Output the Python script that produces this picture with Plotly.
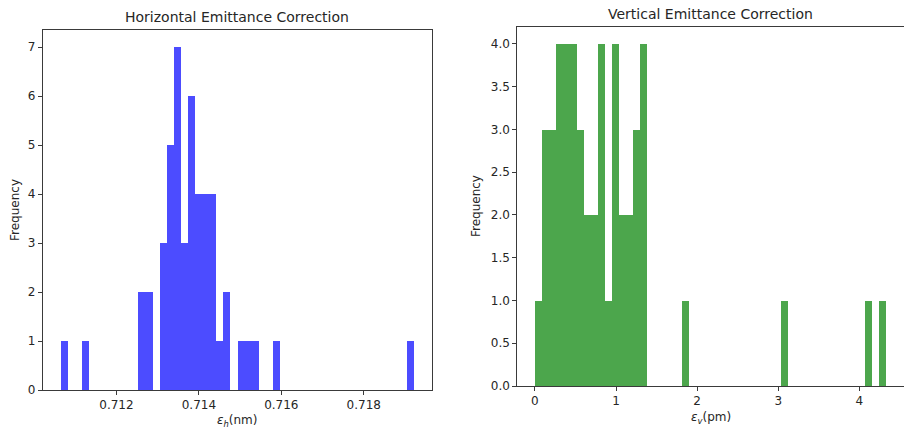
import numpy as np
import plotly.graph_objects as go

# Histogram of corrected horizontal emittance (nm): 50 equal bins
h_lo, h_hi = 0.71064, 0.71922
h_counts = [1, 0, 0, 1, 0, 0, 0, 0, 0, 0,
            0, 2, 2, 0, 3, 5, 7, 3, 6, 4,
            4, 4, 1, 2, 0, 1, 1, 1, 0, 0,
            1, 0, 0, 0, 0, 0, 0, 0, 0, 0,
            0, 0, 0, 0, 0, 0, 0, 0, 0, 1]

# Histogram of corrected vertical emittance (pm): 50 equal bins
v_lo, v_hi = 0.0, 4.337
v_counts = [1, 3, 3, 4, 4, 4, 3, 2, 2, 4,
            1, 4, 2, 2, 3, 4, 0, 0, 0, 0,
            0, 1, 0, 0, 0, 0, 0, 0, 0, 0,
            0, 0, 0, 0, 0, 1, 0, 0, 0, 0,
            0, 0, 0, 0, 0, 0, 0, 1, 0, 1]

h_ticks = [0.712, 0.714, 0.716, 0.718]
v_xticks = [0, 1, 2, 3, 4]
h_yticks = [0, 1, 2, 3, 4, 5, 6, 7]
v_yticks = [0.0, 0.5, 1.0, 1.5, 2.0, 2.5, 3.0, 3.5, 4.0]

W, H = 904, 430
FONT = "DejaVu Sans"
TXT = "#262626"
AX = "#3a3a3a"


def bins(lo, hi, counts):
    edges = np.linspace(lo, hi, len(counts) + 1)
    centers = 0.5 * (edges[:-1] + edges[1:])
    return centers, edges[1] - edges[0]


def pad(lo, hi, frac=0.05):
    m = (hi - lo) * frac
    return lo - m, hi + m


hc, hw = bins(h_lo, h_hi, h_counts)
vc, vw = bins(v_lo, v_hi, v_counts)

fig = go.Figure()
fig.add_trace(go.Bar(x=hc, y=h_counts, width=hw, marker_color="rgba(0,0,255,0.7)",
                     marker_line_width=0, xaxis="x", yaxis="y", showlegend=False))
fig.add_trace(go.Bar(x=vc, y=v_counts, width=vw, marker_color="rgba(0,128,0,0.7)",
                     marker_line_width=0, xaxis="x2", yaxis="y2", showlegend=False))

# axes frames in pixels (left, right, top, bottom)
L1, R1, T1, B1 = 42.7, 431.7, 30.0, 390.0
L2, R2, T2, B2 = 517.3, 904.3, 26.7, 386.0

hx0, hx1 = pad(h_lo, h_hi)
vx0, vx1 = pad(v_lo, v_hi)
# right panel is clipped at the page edge: trim its range accordingly
vx1_vis = vx0 + (vx1 - vx0) * (W - L2) / (R2 - L2)

axis_common = dict(showgrid=False, zeroline=False, showline=True, linecolor=AX,
                   linewidth=1, mirror=True, ticks="outside", ticklen=4,
                   tickcolor=AX, tickwidth=1, automargin=False,
                   tickfont=dict(family=FONT, size=12, color=TXT))

fig.update_layout(
    template="none",
    width=W, height=H, margin=dict(l=0, r=0, t=0, b=0, pad=0, autoexpand=False),
    paper_bgcolor="white", plot_bgcolor="white", bargap=0, showlegend=False,
    font=dict(family=FONT, color=TXT),
    xaxis=dict(domain=[L1 / W, R1 / W], range=[hx0, hx1], tickvals=h_ticks,
               tickformat=".3f", anchor="y", **axis_common),
    yaxis=dict(domain=[(H - B1) / H, (H - T1) / H], range=[0, max(h_counts) * 1.05],
               tickvals=h_yticks, anchor="x", **axis_common),
    xaxis2=dict(domain=[L2 / W, 1.0], range=[vx0, vx1_vis], tickvals=v_xticks,
                anchor="y2", **axis_common),
    yaxis2=dict(domain=[(H - B2) / H, (H - T2) / H], range=[0, max(v_counts) * 1.05],
                tickvals=v_yticks, tickformat=".1f", anchor="x2", **axis_common),
)


def px_x(p):
    return p / W


def px_y(p):
    return 1 - p / H


notes = [
    dict(text="Horizontal Emittance Correction", x=px_x((L1 + R1) / 2), y=px_y(17.5), size=14),
    dict(text="Vertical Emittance Correction", x=px_x((L2 + R2) / 2), y=px_y(14.2), size=14),
    dict(text="<i>ε<sub>h</sub></i>(nm)", x=px_x((L1 + R1) / 2), y=px_y(421), size=12),
    dict(text="<i>ε<sub>v</sub></i>(pm)", x=px_x((L2 + R2) / 2), y=px_y(418), size=12),
    dict(text="Frequency", x=px_x(15), y=px_y((T1 + B1) / 2), size=12, angle=-90),
    dict(text="Frequency", x=px_x(476.7), y=px_y((T2 + B2) / 2), size=12, angle=-90),
]
for n in notes:
    fig.add_annotation(text=n["text"], x=n["x"], y=n["y"], xref="paper", yref="paper",
                       xanchor="center", yanchor="middle", showarrow=False,
                       textangle=n.get("angle", 0),
                       font=dict(family=FONT, size=n["size"], color=TXT))

fig.write_html("out.html")
